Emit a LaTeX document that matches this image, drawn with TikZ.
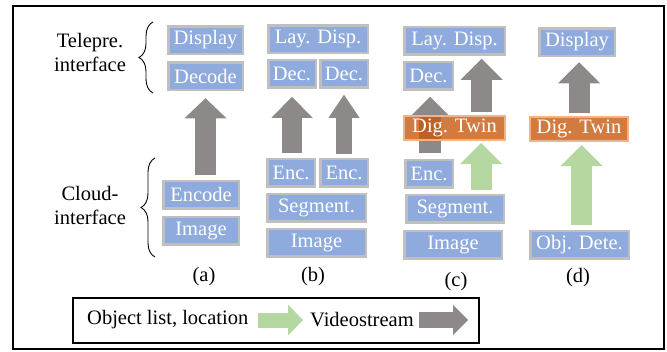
\documentclass[tikz,border=0pt]{standalone}
\usepackage{fontspec}
\setmainfont{Liberation Serif}
\usetikzlibrary{arrows.meta, decorations.pathreplacing}
\definecolor{boxblue}{RGB}{143,170,220}
\definecolor{boxgray}{RGB}{191,191,191}
\definecolor{twinfill}{RGB}{197,90,17}
\definecolor{twinline}{RGB}{244,177,131}
\definecolor{vidgray}{RGB}{141,137,137}
\definecolor{objgreen}{RGB}{181,215,160}
\newcommand{\lblfont}{\fontsize{20.5}{24}\selectfont}

\begin{document}
\begin{tikzpicture}[x=1pt, y=-1pt,
    blk/.style={draw=boxgray, line width=2.5pt, fill=boxblue, text=white, inner sep=0pt, minimum height=27.5pt, font=\lblfont},
    twin/.style={draw=twinline, line width=2pt, fill=twinfill, fill opacity=0.8, text opacity=1, text=white, inner sep=0pt, minimum height=24pt, font=\lblfont},
    fat/.style n args={4}{draw=#1, line width=#2, -{Triangle[line width=0pt, width=#3, length=#4]}},
    vid/.style={fat={vidgray}{21pt}{42pt}{21pt}},
    obj/.style={fat={objgreen}{21pt}{42pt}{21pt}},
    lbl/.style={font=\lblfont, inner sep=0pt, align=center},
    brc/.style={decorate, decoration={brace, amplitude=14pt}, line width=0.9pt}]
    \useasboundingbox (0,0) rectangle (667,351);
    \draw[line width=1.6pt] (13,6) rectangle (664,349);

    % side labels
    \node[lbl] (tele) at (90,52) {Telepre.\\interface};
    \node[lbl] (cloud) at (90,205) {Cloud-\\interface};
    \coordinate (teleB) at (153,93);
    \coordinate (teleT) at (153,22);
    \coordinate (cloudB) at (155,257);
    \coordinate (cloudT) at (155,158);
    \draw[brc] (teleB) -- (teleT);
    \draw[brc] (cloudB) -- (cloudT);

    % (a)
    \node[blk, minimum width=74.5pt] (dispA) at (205.5,40) {Display};
    \node[blk, minimum width=74.5pt] (decA) at (205.5,76) {Decode};
    \node[blk, minimum width=75.5pt] (encA) at (201,194.5) {Encode};
    \node[blk, minimum width=75.5pt] (imgA) at (201,230.5) {Image};
    \draw[vid, fat={vidgray}{21pt}{42pt}{20pt}, shorten <=4.25pt, shorten >=7.25pt] (decA.south |- encA.north) -- (decA.south);
    \node[lbl] (capA) at (204,277) {(a)};

    % (b)
    \node[blk, minimum width=99.5pt] (layB) at (318,39) {Lay. Disp.};
    \node[blk, minimum width=47.5pt] (decB1) at (292,73.5) {Dec.};
    \node[blk, minimum width=47.5pt] (decB2) at (344,73.5) {Dec.};
    \node[blk, minimum width=47.5pt] (encB1) at (291,172.5) {Enc.};
    \node[blk, minimum width=47.5pt] (encB2) at (344,172.5) {Enc.};
    \node[blk, minimum width=98.5pt] (segB) at (316.5,207.5) {Segment.};
    \node[blk, minimum width=98.5pt] (imgB) at (316.5,242.5) {Image};
    \draw[fat={vidgray}{20pt}{41pt}{21pt}, shorten <=4.25pt, shorten >=8.25pt] (decB1.south |- encB1.north) -- (decB1.south);
    \draw[fat={vidgray}{16pt}{31pt}{23pt}, shorten <=3.25pt, shorten >=6.25pt] (encB2.north) -- (decB2.south);
    \node[lbl] (capB) at (313,277) {(b)};

    % (c)
    \node[blk, minimum width=100.5pt] (layC) at (454.5,40.5) {Lay. Disp.};
    \node[blk, minimum width=48.5pt] (decC) at (428.5,75.5) {Dec.};
    \node[blk, minimum width=47.5pt] (encC) at (429,173.5) {Enc.};
    \node[blk, minimum width=97.5pt] (segC) at (455,208.5) {Segment.};
    \node[blk, minimum width=97.5pt] (imgC) at (453,244.5) {Image};
    \draw[fat={vidgray}{22pt}{40pt}{20pt}, shorten <=5.25pt, shorten >=6.25pt] ([xshift=1pt]encC.north) -- ([xshift=1pt]encC.north |- decC.south);
    \node[twin, minimum width=101pt] (twinC) at (454.5,128) {Dig. Twin};
    \draw[vid, shorten <=3pt, shorten >=3.25pt] ([xshift=27pt]twinC.north) -- ([xshift=27pt]layC.south);
    \draw[obj, shorten <=3.25pt, shorten >=2pt] ([xshift=26pt]segC.north) -- ([xshift=26pt]segC.north |- twinC.south);
    \node[lbl] (capC) at (456,282) {(c)};

    % (d)
    \node[blk, minimum width=75.5pt] (dispD) at (577,42) {Display};
    \node[twin, minimum width=98pt] (twinD) at (579,129) {Dig. Twin};
    \node[blk, minimum width=98.5pt] (objD) at (579.5,244.5) {Obj. Dete.};
    \draw[vid, shorten <=3pt, shorten >=5.25pt] (twinD.north) -- (twinD.north |- dispD.south);
    \draw[obj, shorten <=4.25pt, shorten >=3pt] ([xshift=2pt]objD.north) -- ([xshift=2pt]objD.north |- twinD.south);
    \node[lbl] (capD) at (578,278) {(d)};

    % legend
    \draw[line width=1.6pt] (73,298) rectangle (479,343);
    \node[lbl, anchor=west] (objtxt) at (87,320) {Object list, location};
    \node[lbl, anchor=west] (vidtxt) at (310,320) {Videostream};
    \coordinate (vidend) at (468,320);
    \draw[fat={objgreen}{15pt}{31pt}{15pt}, shorten <=9pt, shorten >=7pt] (objtxt.east) -- (vidtxt.west);
    \draw[fat={vidgray}{16pt}{30pt}{15pt}, shorten <=5pt] (vidtxt.east) -- (vidend);
\end{tikzpicture}
\end{document}
